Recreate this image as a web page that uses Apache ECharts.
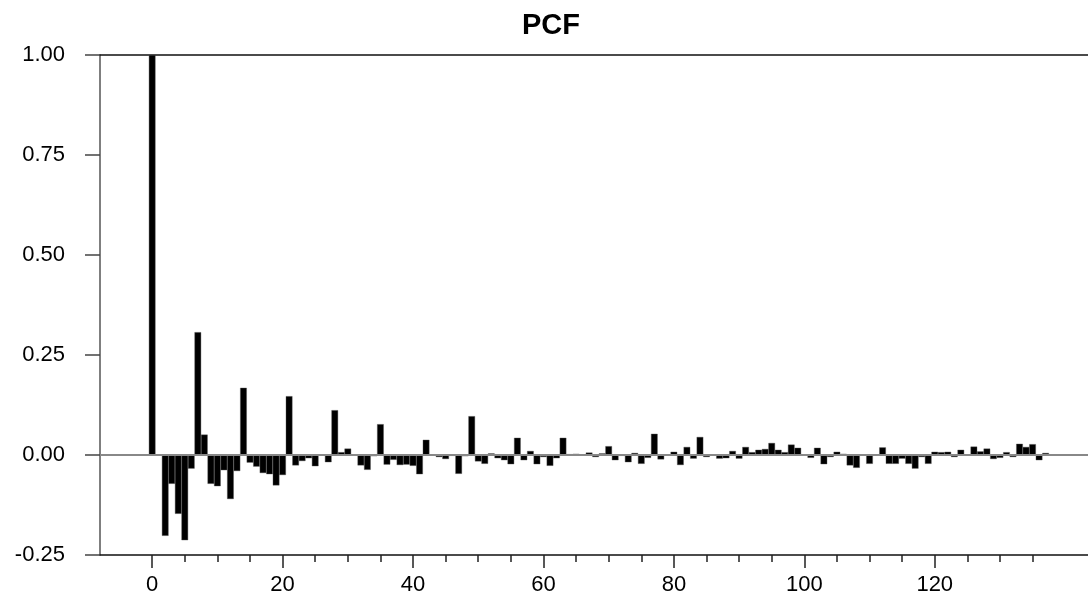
<!DOCTYPE html>
<html>
<head>
<meta charset="utf-8">
<script src="https://cdn.jsdelivr.net/npm/echarts@6/dist/echarts.min.js"></script>
<style>html,body{margin:0;padding:0;background:#fff}#chart{width:1088px;height:596px}</style>
</head>
<body>
<div id="chart"></div>
<script>
const titleText = 'PCF';
const lags = [];
for (let i = 0; i <= 137; i++) lags.push(i);
const pcfValues = [
  1.0, 0.0, -0.202, -0.072, -0.147, -0.213, -0.034, 0.307, 0.051, -0.072,
  -0.078, -0.038, -0.110, -0.040, 0.168, -0.019, -0.029, -0.045, -0.048, -0.076,
  -0.050, 0.147, -0.026, -0.015, -0.008, -0.028, 0.0, -0.018, 0.112, 0.007,
  0.016, 0.0, -0.026, -0.037, -0.003, 0.077, -0.024, -0.012, -0.025, -0.024,
  -0.027, -0.048, 0.038, 0.0, -0.005, -0.010, -0.002, -0.047, -0.003, 0.097,
  -0.016, -0.022, 0.004, -0.008, -0.013, -0.023, 0.043, -0.013, 0.010, -0.023,
  -0.005, -0.027, -0.008, 0.043, 0.002, 0.003, 0.0, 0.006, -0.005, 0.004,
  0.022, -0.013, -0.002, -0.018, 0.005, -0.022, -0.007, 0.053, -0.011, 0.0,
  0.008, -0.025, 0.020, -0.009, 0.045, -0.005, 0.0, -0.009, -0.008, 0.010,
  -0.009, 0.020, 0.007, 0.013, 0.015, 0.030, 0.013, 0.007, 0.026, 0.018,
  0.0, -0.007, 0.018, -0.023, -0.005, 0.008, 0.003, -0.026, -0.032, 0.0,
  -0.022, 0.0, 0.019, -0.022, -0.022, -0.009, -0.022, -0.034, -0.005, -0.022,
  0.008, 0.007, 0.008, -0.005, 0.013, 0.0, 0.021, 0.009, 0.016, -0.010,
  -0.007, 0.007, -0.005, 0.028, 0.020, 0.027, -0.013, 0.005
];
const xMajorTicks = [0, 20, 40, 60, 80, 100, 120];
const xMinorTicks = [0, 5, 10, 15, 20, 25, 30, 35, 40, 45, 50, 55, 60, 65, 70, 75, 80, 85, 90, 95, 100, 105, 110, 115, 120, 125, 130, 135];
const yTicks = [-0.25, 0, 0.25, 0.5, 0.75, 1.0];

const FONT = "'Liberation Sans', Arial, sans-serif";
const X_MIN = -8, X_MAX = 143.5;

const chart = echarts.init(document.getElementById('chart'), null, {renderer: 'canvas'});
chart.setOption({
  animation: false,
  backgroundColor: '#fff',
  title: {
    text: titleText, left: 517, top: 6,
    textStyle: {fontFamily: FONT, fontSize: 29, fontWeight: 'bold', color: '#000'}
  },
  grid: {left: 100, right: 0, top: 55, bottom: 41, containLabel: false},
  xAxis: [
    {
      type: 'value', position: 'bottom', min: X_MIN, max: X_MAX,
      axisLine: {show: true, onZero: false, lineStyle: {color: '#111', width: 1.5}},
      axisTick: {show: true, length: 13, customValues: xMajorTicks, lineStyle: {color: '#222', width: 1.5}},
      axisLabel: {show: true, customValues: xMajorTicks, fontFamily: FONT, fontSize: 22, color: '#000', margin: 19},
      splitLine: {show: false}
    },
    {
      type: 'value', position: 'bottom', min: X_MIN, max: X_MAX,
      axisLine: {show: false, onZero: false},
      axisTick: {show: true, length: 7, customValues: xMinorTicks, lineStyle: {color: '#222', width: 1.5}},
      axisLabel: {show: false},
      splitLine: {show: false}
    },
    {
      type: 'value', position: 'top', min: X_MIN, max: X_MAX,
      axisLine: {show: true, onZero: false, lineStyle: {color: '#111', width: 1.5}},
      axisTick: {show: false}, axisLabel: {show: false}, splitLine: {show: false}
    }
  ],
  yAxis: {
    type: 'value', min: -0.25, max: 1.0, interval: 0.25,
    axisLine: {show: true, onZero: false, lineStyle: {color: '#555', width: 1.5}},
    axisTick: {show: true, length: 15, customValues: yTicks, lineStyle: {color: '#444', width: 1.5}},
    axisLabel: {fontFamily: FONT, fontSize: 22, color: '#000', margin: 35,
      formatter: v => v.toFixed(2)},
    splitLine: {show: false}
  },
  series: [{
    type: 'bar', xAxisIndex: 0,
    data: lags.map((l, i) => [l, pcfValues[i]]),
    barWidth: 6.6,
    itemStyle: {color: '#000', borderColor: '#555', borderWidth: 0.4},
    markLine: {
      silent: true, symbol: ['none', 'none'], label: {show: false},
      lineStyle: {color: '#888', width: 2, type: 'solid'},
      data: [{yAxis: 0}]
    }
  }]
});
</script>
</body>
</html>
